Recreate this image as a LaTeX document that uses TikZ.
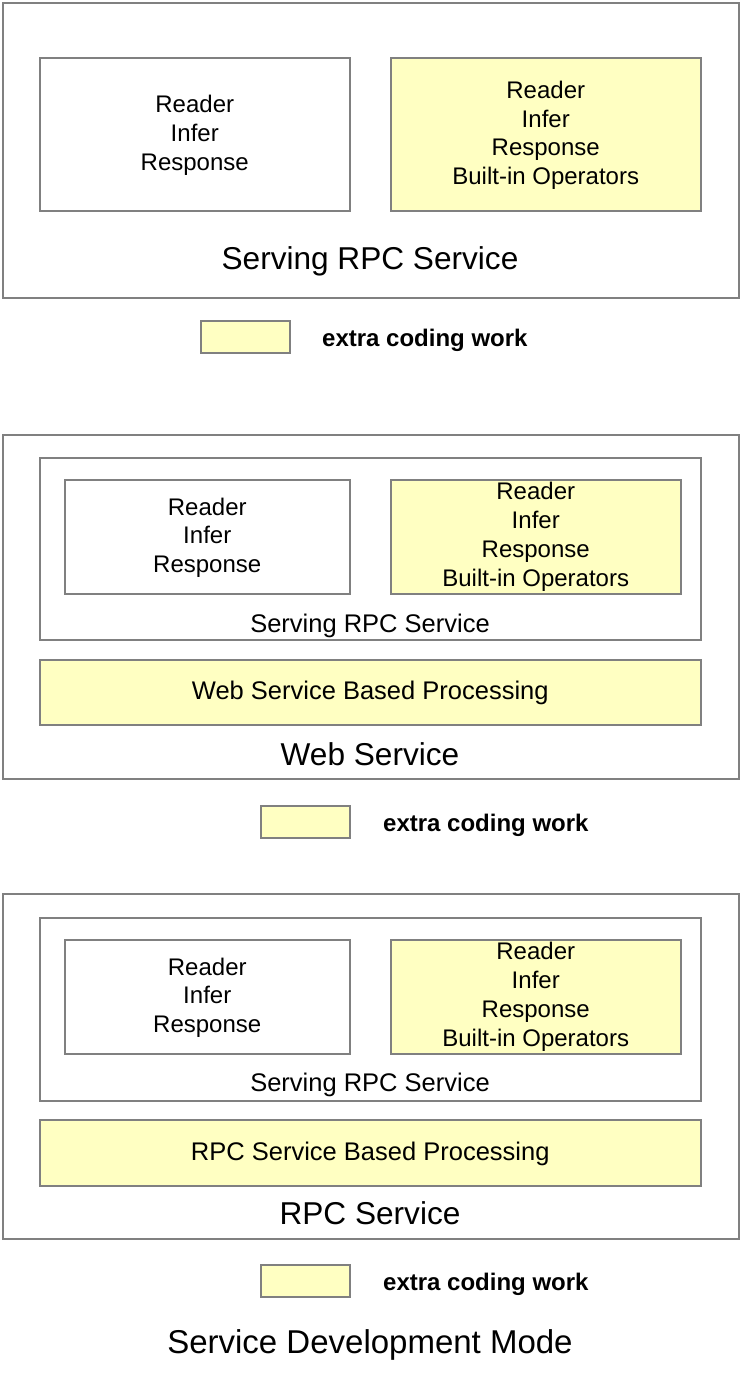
\documentclass[tikz,border=0pt]{standalone}
\usepackage{fontspec}
\setmainfont{Liberation Sans}
\definecolor{edgegray}{HTML}{808080}
\definecolor{extrayellow}{HTML}{FFFFC2}
\begin{document}
\begin{tikzpicture}[x=1pt,y=-1pt,
  box/.style={draw=edgegray, line width=1.5pt, rectangle, inner sep=0pt, anchor=north west},
  extra/.style={box, fill=extrayellow},
  boxtext/.style={align=center, inner sep=0pt, font=\fontsize{24}{28.7}\selectfont},
  bandtext/.style={inner sep=0pt, font=\fontsize{25.5}{30}\selectfont},
  bigtitle/.style={inner sep=0pt, font=\fontsize{31.6}{36}\selectfont},
  captitle/.style={inner sep=0pt, font=\fontsize{33}{38}\selectfont},
  midtitle/.style={inner sep=0pt, font=\fontsize{25.5}{30}\selectfont},
  legtext/.style={inner sep=0pt, anchor=west, font=\fontsize{24}{28}\selectfont\bfseries}]
\useasboundingbox (0,0) rectangle (740,1376);
% ---------- Panel 1 ----------
\node[box, minimum width=736pt, minimum height=295pt] (p1) at (2,2) {};
\node[box, minimum width=310pt, minimum height=153pt] (p1l) at (39,57) {};
\node[extra, minimum width=310pt, minimum height=153pt] (p1r) at (390,57) {};
\node[boxtext] (p1lt) at ([yshift=-1pt]p1l.center) {Reader\\Infer\\Response};
\node[boxtext] (p1rt) at ([yshift=-1pt]p1r.center) {Reader\\Infer\\Response\\Built-in Operators};
\node[bigtitle] (p1t) at (370,261.5) {Serving RPC Service};
\node[extra, minimum width=89pt, minimum height=32pt] (leg1) at (200,320) {};
\node[legtext] (leg1t) at (322,340) {extra coding work};
% ---------- Panel 2 ----------
\node[box, minimum width=736pt, minimum height=344pt] (p2) at (2,434) {};
\node[box, minimum width=661pt, minimum height=182pt] (p2c) at (39,457) {};
\node[box, minimum width=285pt, minimum height=114pt] (p2l) at (64,479) {};
\node[extra, minimum width=290pt, minimum height=114pt] (p2r) at (390,479) {};
\node[boxtext] (p2lt) at ([yshift=-1pt]p2l.center) {Reader\\Infer\\Response};
\node[boxtext] (p2rt) at (p2r.center) {Reader\\Infer\\Response\\Built-in Operators};
\node[midtitle] (p2ct) at (370,626) {Serving RPC Service};
\node[extra, minimum width=661pt, minimum height=65pt] (p2w) at (39,659) {};
\node[bandtext] (p2wt) at ([yshift=-1pt]p2w.center) {Web Service Based Processing};
\node[bigtitle] (p2t) at (370,754) {Web Service};
\node[extra, minimum width=89pt, minimum height=32pt] (leg2) at (260,805) {};
\node[legtext] (leg2t) at (383,825) {extra coding work};
% ---------- Panel 3 ----------
\node[box, minimum width=736pt, minimum height=345pt] (p3) at (2,893) {};
\node[box, minimum width=661pt, minimum height=183pt] (p3c) at (39,917) {};
\node[box, minimum width=285pt, minimum height=114pt] (p3l) at (64,939) {};
\node[extra, minimum width=290pt, minimum height=114pt] (p3r) at (390,939) {};
\node[boxtext] (p3lt) at ([yshift=-1pt]p3l.center) {Reader\\Infer\\Response};
\node[boxtext] (p3rt) at (p3r.center) {Reader\\Infer\\Response\\Built-in Operators};
\node[midtitle] (p3ct) at (370,1085) {Serving RPC Service};
\node[extra, minimum width=661pt, minimum height=66pt] (p3w) at (39,1119) {};
\node[bandtext] (p3wt) at ([yshift=-1pt]p3w.center) {RPC Service Based Processing};
\node[bigtitle] (p3t) at (370,1213) {RPC Service};
\node[extra, minimum width=89pt, minimum height=32pt] (leg3) at (260,1264) {};
\node[legtext] (leg3t) at (383,1284) {extra coding work};
% ---------- Caption ----------
\node[captitle] (cap) at (370,1345) {Service Development Mode};
\end{tikzpicture}
\end{document}
